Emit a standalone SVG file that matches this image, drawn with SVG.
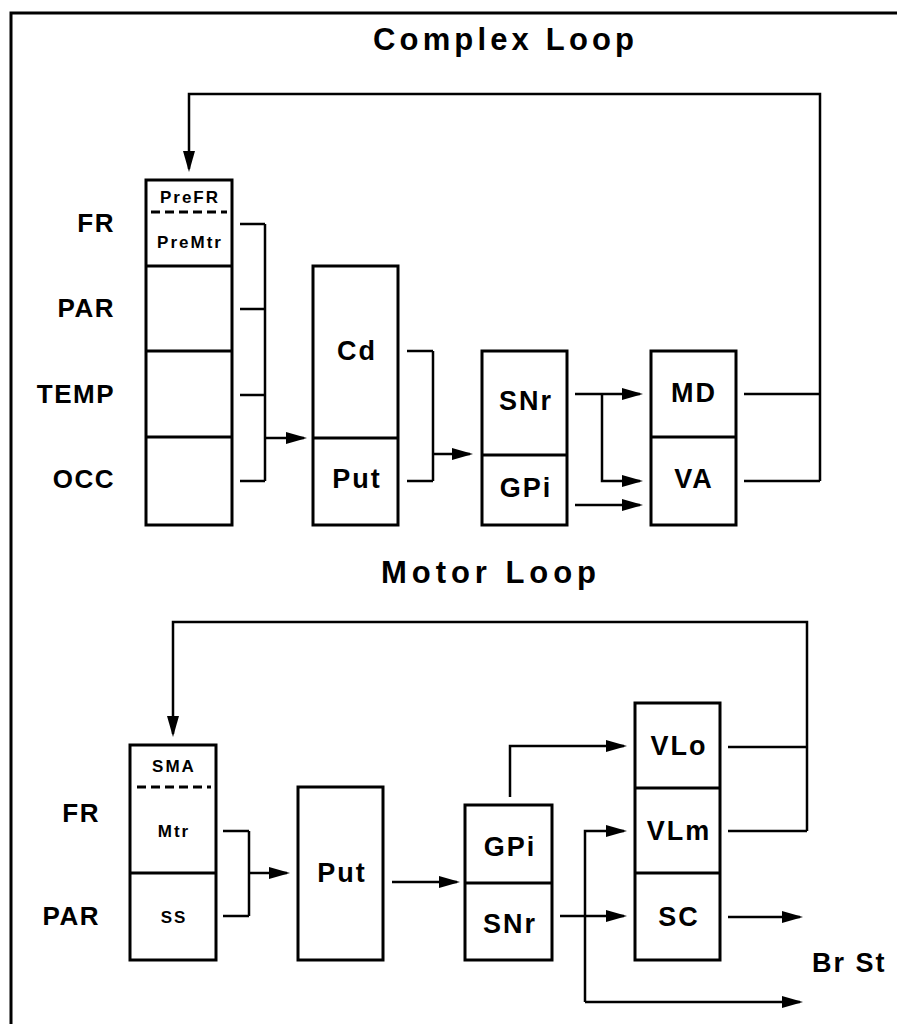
<svg xmlns="http://www.w3.org/2000/svg" width="897" height="1024" viewBox="0 0 897 1024">
<style>
.box{fill:#fff;stroke:#000;stroke-width:3}
.div{stroke:#000;stroke-width:3;fill:none}
.dash{stroke:#000;stroke-width:3;fill:none;stroke-dasharray:9,5}
.ln{stroke:#000;stroke-width:2.5;fill:none}
.ar{stroke:#000;stroke-width:2.5;fill:none;marker-end:url(#ah)}
.t{font-family:"Liberation Sans",Arial,sans-serif;font-weight:bold;fill:#000}
.title{font-size:31px}
.lab{font-size:26px;letter-spacing:1.5px;text-anchor:end}
.nd{font-size:27px;letter-spacing:2px;text-anchor:middle}
.sm{font-size:17px;letter-spacing:2px;text-anchor:middle}
</style>
<defs>
<marker id="ah" markerUnits="userSpaceOnUse" markerWidth="23" markerHeight="13" refX="18" refY="6" orient="auto">
<path d="M0,0 L21,6 L0,12 z" fill="#000"/>
</marker>
</defs>
<path d="M11,1024 V13 H897" fill="none" stroke="#000" stroke-width="3"/>
<text class="t title" x="373" y="50" textLength="261" lengthAdjust="spacing">Complex Loop</text>
<text class="t title" x="381" y="583" textLength="215" lengthAdjust="spacing">Motor Loop</text>
<g id="labels-complex">
<text class="t lab" x="115" y="232">FR</text>
<text class="t lab" x="115" y="317">PAR</text>
<text class="t lab" x="115" y="403">TEMP</text>
<text class="t lab" x="115" y="488">OCC</text>
</g>
<g id="labels-motor">
<text class="t lab" x="100" y="822">FR</text>
<text class="t lab" x="100" y="925">PAR</text>
</g>
<g id="cortex-complex">
<rect class="box" x="146" y="180" width="86" height="345"/>
<path class="div" d="M146,266 H232 M146,351 H232 M146,437 H232"/>
<path class="dash" d="M151,212 H227"/>
<text class="t sm" x="190" y="203">PreFR</text>
<text class="t sm" x="190" y="248">PreMtr</text>
</g>
<g id="striatum-complex">
<rect class="box" x="313" y="266" width="85" height="259"/>
<path class="div" d="M313,438 H398"/>
<text class="t nd" x="357" y="360">Cd</text>
<text class="t nd" x="357" y="488">Put</text>
</g>
<g id="pallidum-complex">
<rect class="box" x="482" y="351" width="85" height="174"/>
<path class="div" d="M482,455 H567"/>
<text class="t nd" x="526" y="410">SNr</text>
<text class="t nd" x="526" y="497">GPi</text>
</g>
<g id="thalamus-complex">
<rect class="box" x="651" y="351" width="85" height="174"/>
<path class="div" d="M651,437 H736"/>
<text class="t nd" x="694" y="402">MD</text>
<text class="t nd" x="694" y="488">VA</text>
</g>
<g id="cortex-motor">
<rect class="box" x="130" y="745" width="86" height="215"/>
<path class="div" d="M130,873 H216"/>
<path class="dash" d="M137,787 H211"/>
<text class="t sm" x="174" y="772">SMA</text>
<text class="t sm" x="174" y="837">Mtr</text>
<text class="t sm" x="174" y="923">SS</text>
</g>
<g id="putamen-motor">
<rect class="box" x="298" y="787" width="85" height="173"/>
<text class="t nd" x="342" y="882">Put</text>
</g>
<g id="pallidum-motor">
<rect class="box" x="465" y="805" width="87" height="155"/>
<path class="div" d="M465,883 H552"/>
<text class="t nd" x="510" y="856">GPi</text>
<text class="t nd" x="510" y="933">SNr</text>
</g>
<g id="thalamus-motor">
<rect class="box" x="635" y="703" width="85" height="257"/>
<path class="div" d="M635,788 H720 M635,873 H720"/>
<text class="t nd" x="679" y="755">VLo</text>
<text class="t nd" x="679" y="840">VLm</text>
<text class="t nd" x="679" y="926">SC</text>
</g>
<g id="brst">
<text class="t" x="812" y="972" font-size="27" letter-spacing="2">Br St</text>
</g>
<g id="connectors">
<path class="ln" d="M744,394 H820 M744,481 H820"/>
<path class="ar" d="M820,481 V94 H189 V169"/>
<path class="ln" d="M240,224 H265 M240,309 H265 M240,395 H265 M240,481 H265 M265,224 V481"/>
<path class="ar" d="M265,438 H304"/>
<path class="ln" d="M407,351 H433 M407,481 H433 M433,351 V481"/>
<path class="ar" d="M433,454 H470"/>
<path class="ar" d="M575,394 H640"/>
<path class="ar" d="M602,394 V481 H640"/>
<path class="ar" d="M575,505 H640"/>
<path class="ln" d="M728,747 H807 M728,831 H807"/>
<path class="ar" d="M807,831 V622 H173 V734"/>
<path class="ln" d="M223,831 H249 M223,916 H249 M249,831 V916"/>
<path class="ar" d="M249,873 H287"/>
<path class="ar" d="M392,882 H457"/>
<path class="ar" d="M510,797 V746 H624"/>
<path class="ar" d="M560,916 H624"/>
<path class="ar" d="M585,1002 V831 H624"/>
<path class="ar" d="M585,1002 H800"/>
<path class="ar" d="M728,917 H800"/>
</g>
</svg>
